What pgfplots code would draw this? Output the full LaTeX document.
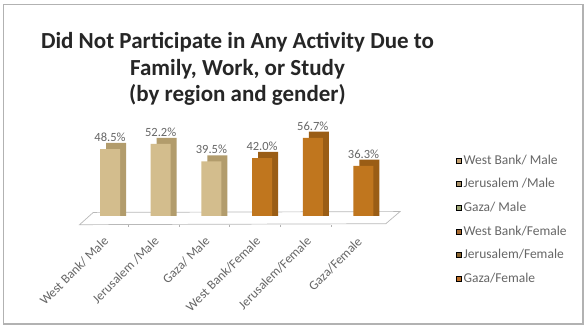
\documentclass[border=0pt]{standalone}
\usepackage{pgfplots}
\pgfplotsset{compat=1.18}
\usepackage{pgfplotstable}
\usepackage{fontspec}
\setmainfont{Carlito}
\definecolor{tanF}{HTML}{D3BD8D}
\definecolor{tanS}{HTML}{B29C6C}
\definecolor{brF}{HTML}{C0761E}
\definecolor{brS}{HTML}{9A5D15}
\definecolor{lg1}{HTML}{C4A070}
\definecolor{lg2}{HTML}{A89068}
\definecolor{lg3}{HTML}{A0A878}
\definecolor{lg4}{HTML}{A86A30}
\definecolor{lg5}{HTML}{8A6530}
\definecolor{lg6}{HTML}{C07028}
\definecolor{txt}{HTML}{666666}
\pgfplotstableread{
x v
0 48.5
1 52.2
2 39.5
}\male
\pgfplotstableread{
x v
3 42.0
4 56.7
5 36.3
}\female
\begin{document}
\begin{tikzpicture}[x=1pt,y=1pt]
\useasboundingbox (0,0) rectangle (587,329);
\fill[white] (0,0) rectangle (587,329);
\draw[gray!60, line width=1.3pt] (3.5,5) rectangle (583,324.5);
\node[font=\bfseries\fontsize{23}{26.5}\selectfont, align=center, text=black!85] at (237.5,260) {Did Not Participate in Any Activity Due to\\Family, Work, or Study\\(by region and gender)};
\begin{axis}[
  at={(110pt,113pt)}, anchor=origin,
  scale only axis, width=304.2pt, height=82.8pt,
  xmin=-0.5, xmax=5.5, ymin=0, ymax=60,
  clip=false,
  axis line style={draw=none},
  major tick length=0pt,
  ytick=\empty,
  xtick=\empty,
  ybar, bar width=20pt,
  legend style={at={(1.211,0.79)}, anchor=north west, draw=none, fill=none,
    font=\fontsize{13.5}{16}\selectfont, text=txt, row sep=8.8pt},
  legend cell align=left,
  legend image code/.code={\fill[#1] (0pt,-2.5pt) rectangle (5pt,2.5pt);},
]
% floor
\fill[white, draw=gray!55, line width=0.7pt] (axis cs:-0.6,-6.3) -- (axis cs:-0.33,2.6) -- (axis cs:5.72,3.2) -- (axis cs:5.44,-5.6) -- cycle;
\pgfplotsinvokeforeach{0.36,1.36,2.36,3.36,4.36}{\draw[gray!60] (axis cs:#1,-6.2) -- (axis cs:#1,-8.2);}
% category labels
\begin{scope}[every node/.style={font=\fontsize{13}{15}\selectfont, text=txt, rotate=45, anchor=east, inner sep=1pt}]
\node at (axis cs:-0.06,-16) {West Bank/ Male};
\node at (axis cs:0.94,-16) {Jerusalem /Male};
\node at (axis cs:1.94,-16) {Gaza/ Male};
\node at (axis cs:2.94,-16) {West Bank/Female};
\node at (axis cs:3.94,-16) {Jerusalem/Female};
\node at (axis cs:4.94,-16.5) {Gaza/Female};
\end{scope}
% side/back faces
\addplot[fill=tanS, draw=none, bar shift=6pt, forget plot] table[x=x, y expr=\thisrow{v}+4.5] {\male};
\addplot[fill=brS, draw=none, bar shift=6pt, forget plot] table[x=x, y expr=\thisrow{v}+4.5] {\female};
% front faces
\addplot[fill=tanF, draw=none, bar shift=0pt, forget plot,
  nodes near coords={\pgfmathprintnumber[fixed,fixed zerofill,precision=1,assume math mode=true]{\pgfplotspointmeta}\%},
  every node near coord/.append style={font=\fontsize{12.5}{14}\selectfont, text=txt, yshift=4pt, xshift=0pt}] table[x=x, y=v] {\male};
\addplot[fill=brF, draw=none, bar shift=0pt, forget plot,
  nodes near coords={\pgfmathprintnumber[fixed,fixed zerofill,precision=1,assume math mode=true]{\pgfplotspointmeta}\%},
  every node near coord/.append style={font=\fontsize{12.5}{14}\selectfont, text=txt, yshift=4pt, xshift=0pt}] table[x=x, y=v] {\female};
\addlegendimage{fill=lg1}\addlegendentry{West Bank/ Male}
\addlegendimage{fill=lg2}\addlegendentry{Jerusalem /Male}
\addlegendimage{fill=lg3}\addlegendentry{Gaza/ Male}
\addlegendimage{fill=lg4}\addlegendentry{West Bank/Female}
\addlegendimage{fill=lg5}\addlegendentry{Jerusalem/Female}
\addlegendimage{fill=lg6}\addlegendentry{Gaza/Female}
\end{axis}
\end{tikzpicture}
\end{document}
